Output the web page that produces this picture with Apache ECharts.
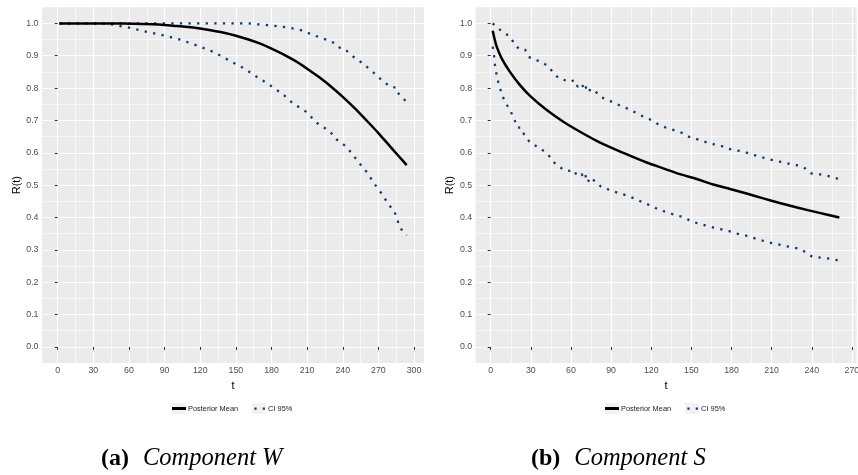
<!DOCTYPE html>
<html>
<head>
<meta charset="utf-8">
<script src="https://cdn.jsdelivr.net/npm/echarts@6/dist/echarts.min.js"></script>
<style>
  html, body { margin: 0; padding: 0; background: #fff; }
  #chart { width: 858px; height: 475px; }
</style>
</head>
<body>
<div id="chart"></div>
<script>
// ---- panel (a): component W ----
var tMeanW = [1.5, 10, 20, 30, 40, 50, 60, 70, 80, 90, 100, 110, 120, 130, 140, 150, 160, 170, 180, 190, 200, 210, 220, 230, 240, 250, 260, 270, 280, 287, 293.8];
var meanW = [1.000, 1.000, 1.000, 1.000, 1.000, 1.000, 0.999, 0.998, 0.997, 0.995, 0.992, 0.989, 0.984, 0.978, 0.971, 0.962, 0.951, 0.938, 0.922, 0.904, 0.884, 0.860, 0.834, 0.805, 0.773, 0.738, 0.700, 0.661, 0.619, 0.590, 0.562];

var tUpW = [1.5, 160, 168.9, 181.5, 192.8, 204.8, 216.6, 229.2, 234.9, 239.1, 243.3, 248.9, 253.1, 262.9, 274.1, 281.2, 284.8, 286.2, 290.9, 293.8];
var upW = [1.000, 1.000, 0.997, 0.993, 0.988, 0.979, 0.962, 0.946, 0.935, 0.918, 0.915, 0.897, 0.887, 0.858, 0.820, 0.802, 0.802, 0.786, 0.768, 0.757];

var tLoW = [1.5, 40, 46.9, 60.9, 74.9, 89.0, 103.0, 117.0, 131.0, 143.1, 156.3, 167.5, 178.7, 189.9, 198.3, 209.6, 218.0, 229.2, 234.9, 243.3, 248.9, 254.5, 260.1, 267.1, 274.1, 277.5, 281.2, 283.2, 285.4, 287.4, 290.9, 293.8];
var loW = [1.000, 1.000, 0.996, 0.986, 0.974, 0.963, 0.950, 0.932, 0.912, 0.888, 0.862, 0.835, 0.809, 0.780, 0.752, 0.726, 0.693, 0.666, 0.641, 0.618, 0.592, 0.565, 0.541, 0.502, 0.467, 0.446, 0.428, 0.421, 0.400, 0.376, 0.354, 0.345];

// ---- panel (b): component S ----
var tMeanS = [1.5, 3, 4.5, 8.2, 14.4, 21.9, 29.4, 41.9, 54.3, 66.8, 79.2, 91.7, 104.1, 116.6, 129.0, 141.5, 154.0, 166.4, 178.9, 191.3, 203.8, 216, 229, 245, 260.6];
var meanS = [0.977, 0.950, 0.928, 0.892, 0.850, 0.809, 0.776, 0.732, 0.696, 0.665, 0.637, 0.613, 0.591, 0.570, 0.552, 0.534, 0.519, 0.502, 0.488, 0.474, 0.459, 0.445, 0.431, 0.415, 0.400];

var tUpS = [1.5, 2.5, 5.2, 10.0, 15.2, 17.7, 21.4, 25.7, 28.2, 33.6, 35.9, 40.6, 43.6, 47.3, 51.3, 55.1, 59.3, 62.5, 65.0, 68.0, 69.8, 70.8, 72.5, 75.0, 79.2, 83.0, 87.9, 92.9, 98.7, 104.1, 109.1, 114.6, 120.3, 125.3, 130.8, 137.0, 142.8, 148.5, 153.5, 159.4, 165.7, 171.4, 177.1, 183.1, 189.3, 195.1, 201.3, 207.0, 213.8, 219.5, 225.5, 231.2, 235.4, 239.9, 246.1, 252.4, 258.6, 260.6];
var upS = [1.000, 1.000, 0.985, 0.972, 0.956, 0.935, 0.921, 0.919, 0.897, 0.885, 0.885, 0.874, 0.864, 0.845, 0.829, 0.825, 0.819, 0.825, 0.804, 0.814, 0.796, 0.806, 0.786, 0.798, 0.786, 0.771, 0.763, 0.753, 0.742, 0.734, 0.722, 0.711, 0.701, 0.688, 0.678, 0.670, 0.662, 0.649, 0.643, 0.635, 0.627, 0.623, 0.613, 0.608, 0.603, 0.595, 0.588, 0.581, 0.574, 0.570, 0.563, 0.560, 0.551, 0.536, 0.533, 0.528, 0.521, 0.519];

var tLoS = [1.5, 2.5, 3.0, 4.0, 5.2, 7.0, 9.0, 12.0, 15.0, 17.7, 19.9, 22.4, 25.2, 26.4, 29.4, 33.6, 35.1, 36.1, 40.6, 43.1, 46.8, 51.3, 55.1, 59.3, 62.5, 64.3, 68.0, 69.3, 70.5, 72.5, 74.3, 79.2, 83.0, 87.2, 92.9, 98.7, 104.1, 109.1, 114.6, 120.3, 125.3, 131.0, 137.2, 143.2, 149.5, 154.0, 160.2, 166.4, 171.9, 178.1, 183.8, 190.1, 195.6, 201.8, 208.1, 214.3, 220.0, 226.3, 232.0, 235.7, 240.7, 246.7, 252.9, 259.1, 260.6];
var loS = [0.928, 0.902, 0.876, 0.851, 0.825, 0.799, 0.773, 0.749, 0.727, 0.703, 0.678, 0.678, 0.655, 0.655, 0.632, 0.622, 0.618, 0.622, 0.603, 0.594, 0.572, 0.557, 0.546, 0.544, 0.546, 0.529, 0.534, 0.524, 0.534, 0.508, 0.524, 0.508, 0.493, 0.488, 0.479, 0.472, 0.464, 0.456, 0.445, 0.436, 0.425, 0.417, 0.409, 0.402, 0.390, 0.383, 0.376, 0.369, 0.364, 0.358, 0.350, 0.345, 0.338, 0.330, 0.323, 0.318, 0.312, 0.307, 0.302, 0.291, 0.278, 0.276, 0.273, 0.268, 0.267];

// ---- axes ----
var xTicksW = [0, 30, 60, 90, 120, 150, 180, 210, 240, 270, 300];
var xMinorW = [15, 45, 75, 105, 135, 165, 195, 225, 255, 285];
var xTicksS = [0, 30, 60, 90, 120, 150, 180, 210, 240, 270];
var xMinorS = [15, 45, 75, 105, 135, 165, 195, 225, 255];
var yTicks = [0, 0.1, 0.2, 0.3, 0.4, 0.5, 0.6, 0.7, 0.8, 0.9, 1.0];
var yMinor = [0.05, 0.15, 0.25, 0.35, 0.45, 0.55, 0.65, 0.75, 0.85, 0.95];

var legendNames = ['Posterior Mean', 'CI 95%'];
var captions = [['(a)', 'Component W'], ['(b)', 'Component S']];

function zip(t, v) {
  return t.map(function (x, i) { return [x, v[i]]; });
}

var chart = echarts.init(document.getElementById('chart'));

var tickColor = '#333333';
var labelColor = '#4d4d4d';
var ciColor = '#123b6c';

// legend key glyphs (14x11 box; hairline corners keep the box size)
var keyMean = 'path://M0,0L14,0L14,0.01Z M0,4L14,4L14,7L0,7Z M0,11L14,11L14,11.01Z';
var keyCI = 'path://M0,0L14,0L14,0.01Z M2.3,4.5L4.5,4.5L4.5,6.7L2.3,6.7Z M10.6,4.5L12.8,4.5L12.8,6.7L10.6,6.7Z M0,11L14,11L14,11.01Z';

function majorX(grid, min, max, ticks) {
  return {
    gridIndex: grid, type: 'value', min: min, max: max, position: 'bottom',
    name: 't', nameLocation: 'middle', nameGap: 14,
    nameTextStyle: { fontFamily: 'Liberation Sans', fontSize: 11, color: '#000' },
    axisLine: { show: false },
    axisTick: { show: true, customValues: ticks, length: 3, lineStyle: { color: tickColor, width: 1 } },
    axisLabel: { customValues: ticks, margin: 3, fontFamily: 'Liberation Sans', fontSize: 8.8, color: labelColor },
    splitLine: { show: true, lineStyle: { color: '#ffffff', width: 1.2 } }
  };
}
function minorX(grid, min, max, ticks) {
  return {
    gridIndex: grid, type: 'value', min: min, max: max, position: 'bottom',
    axisLine: { show: false },
    axisTick: { show: false, customValues: ticks },
    axisLabel: { show: false },
    splitLine: { show: true, lineStyle: { color: '#ffffff', width: 0.6 } }
  };
}
function majorY(grid) {
  return {
    gridIndex: grid, type: 'value', min: -0.05, max: 1.05, position: 'left',
    name: 'R(t)', nameLocation: 'middle', nameGap: 20, nameRotate: 90,
    nameTextStyle: { fontFamily: 'Liberation Sans', fontSize: 11, color: '#000' },
    axisLine: { show: false },
    axisTick: { show: true, customValues: yTicks, length: 3, lineStyle: { color: tickColor, width: 1 } },
    axisLabel: { customValues: yTicks, margin: 3.5, fontFamily: 'Liberation Sans', fontSize: 8.8, color: labelColor,
      formatter: function (v) { return v.toFixed(1); } },
    splitLine: { show: true, lineStyle: { color: '#ffffff', width: 1.2 } }
  };
}
function minorY(grid) {
  return {
    gridIndex: grid, type: 'value', min: -0.05, max: 1.05, position: 'left',
    axisLine: { show: false },
    axisTick: { show: false, customValues: yMinor },
    axisLabel: { show: false },
    splitLine: { show: true, lineStyle: { color: '#ffffff', width: 0.6 } }
  };
}

function meanSeries(xi, yi, data) {
  return {
    name: legendNames[0], type: 'line', xAxisIndex: xi, yAxisIndex: yi, data: data,
    showSymbol: false, symbol: 'none', smooth: 0.3, z: 5,
    lineStyle: { color: '#000', width: 2.5 }, itemStyle: { color: '#000' }
  };
}
function ciSeries(xi, yi, data) {
  return {
    name: legendNames[1], type: 'line', xAxisIndex: xi, yAxisIndex: yi, data: data,
    showSymbol: false, symbol: 'none', z: 4,
    lineStyle: { color: ciColor, width: 2.3, type: [2.3, 6.3] }, itemStyle: { color: ciColor }
  };
}

// grey key boxes underneath, then the key glyphs on top (same layout)
function legendAt(left, front) {
  var common = {
    left: left, top: 403, orient: 'horizontal', padding: 0,
    itemWidth: 14, itemHeight: 11, itemGap: 14, selectedMode: false,
    textStyle: { fontFamily: 'Liberation Sans', fontSize: 7.4, color: front ? '#1a1a1a' : 'rgba(0,0,0,0)', padding: [0, 0, 0, -3] }
  };
  if (front) {
    common.z = 4;
    common.data = [
      { name: legendNames[0], icon: keyMean, itemStyle: { color: '#000' } },
      { name: legendNames[1], icon: keyCI, itemStyle: { color: ciColor } }
    ];
  } else {
    common.z = 3;
    common.data = [
      { name: legendNames[0], icon: 'rect', itemStyle: { color: '#f2f2f2' } },
      { name: legendNames[1], icon: 'rect', itemStyle: { color: '#f2f2f2' } }
    ];
  }
  return common;
}

function captionAt(left, c) {
  return {
    text: '{a|' + c[0] + '}{b|' + c[1] + '}', left: left, top: 446, padding: 0,
    textStyle: {
      fontWeight: 'normal',
      rich: {
        a: { fontFamily: 'Liberation Serif', fontWeight: 'bold', fontSize: 24, color: '#000', padding: [0, 14, 0, 0] },
        b: { fontFamily: 'Liberation Serif', fontStyle: 'italic', fontWeight: 'normal', fontSize: 24.5, color: '#000' }
      }
    }
  };
}

chart.setOption({
  animation: false,
  backgroundColor: '#ffffff',
  grid: [
    { left: 42, top: 7.2, width: 382, height: 355.9, show: true, backgroundColor: '#ebebeb', borderWidth: 0, outerBoundsMode: 'none', containLabel: false },
    { left: 475.7, top: 7.2, width: 380.9, height: 355.9, show: true, backgroundColor: '#ebebeb', borderWidth: 0, outerBoundsMode: 'none', containLabel: false }
  ],
  xAxis: [
    majorX(0, -13.2, 308.4, xTicksW),
    minorX(0, -13.2, 308.4, xMinorW),
    majorX(1, -11.2, 273.5, xTicksS),
    minorX(1, -11.2, 273.5, xMinorS)
  ],
  yAxis: [majorY(0), minorY(0), majorY(1), minorY(1)],
  legend: [legendAt(172, false), legendAt(172, true), legendAt(605, false), legendAt(605, true)],
  title: [captionAt(101, captions[0]), captionAt(531, captions[1])],
  series: [
    ciSeries(0, 0, zip(tUpW, upW)),
    ciSeries(0, 0, zip(tLoW, loW)),
    meanSeries(0, 0, zip(tMeanW, meanW)),
    ciSeries(2, 2, zip(tUpS, upS)),
    ciSeries(2, 2, zip(tLoS, loS)),
    meanSeries(2, 2, zip(tMeanS, meanS))
  ]
});
</script>
</body>
</html>
